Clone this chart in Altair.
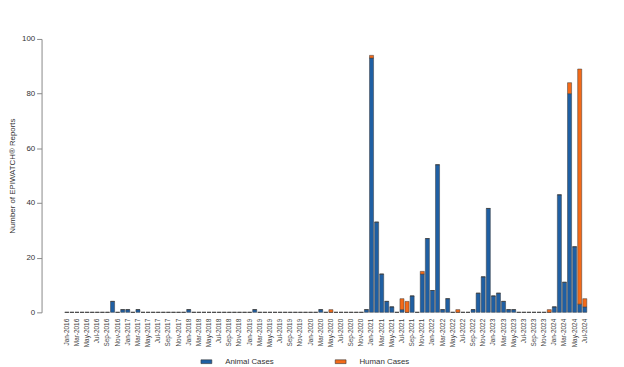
import altair as alt
import pandas as pd

MON = ["Jan", "Feb", "Mar", "Apr", "May", "Jun", "Jul", "Aug", "Sep", "Oct", "Nov", "Dec"]
months = [f"{MON[i % 12]}-{2016 + i // 12}" for i in range(103)]  # Jan-2016 .. Jul-2024

animal = [
    0, 0, 0, 0, 0, 0, 0, 0, 0, 4, 0, 1,        # 2016
    1, 0, 1, 0, 0, 0, 0, 0, 0, 0, 0, 0,        # 2017
    1, 0, 0, 0, 0, 0, 0, 0, 0, 0, 0, 0,        # 2018
    0, 1, 0, 0, 0, 0, 0, 0, 0, 0, 0, 0,        # 2019
    0, 0, 1, 0, 0, 0, 0, 0, 0, 0, 0, 1,        # 2020
    93, 33, 14, 4, 2, 0, 1, 0, 6, 0, 14, 27,   # 2021
    8, 54, 1, 5, 0, 0, 0, 0, 1, 7, 13, 38,     # 2022
    6, 7, 4, 1, 1, 0, 0, 0, 0, 0, 0, 0,        # 2023
    2, 43, 11, 80, 24, 3, 2,                   # 2024
]
human = [
    0, 0, 0, 0, 0, 0, 0, 0, 0, 0, 0, 0,        # 2016
    0, 0, 0, 0, 0, 0, 0, 0, 0, 0, 0, 0,        # 2017
    0, 0, 0, 0, 0, 0, 0, 0, 0, 0, 0, 0,        # 2018
    0, 0, 0, 0, 0, 0, 0, 0, 0, 0, 0, 0,        # 2019
    0, 0, 0, 0, 1, 0, 0, 0, 0, 0, 0, 0,        # 2020
    1, 0, 0, 0, 0, 0, 4, 4, 0, 0, 1, 0,        # 2021
    0, 0, 0, 0, 0, 1, 0, 0, 0, 0, 0, 0,        # 2022
    0, 0, 0, 0, 0, 0, 0, 0, 0, 0, 0, 1,        # 2023
    0, 0, 0, 4, 0, 86, 3,                      # 2024
]
series = ["Animal Cases", "Human Cases"]
colors = ["#1f5fa3", "#f46a18"]
y_ticks = [0, 20, 40, 60, 80, 100]

rows = []
for i, m in enumerate(months):
    rows.append({"month": m, "type": series[0], "count": animal[i], "ord": 0})
    rows.append({"month": m, "type": series[1], "count": human[i], "ord": 1})
df = pd.DataFrame(rows)

FONT = "Liberation Sans"

chart = alt.Chart(df).mark_bar(stroke="#3a3a3a", strokeWidth=0.5).encode(
    x=alt.X("month:N", sort=months,
            scale=alt.Scale(paddingInner=0.2, paddingOuter=0.5),
            axis=alt.Axis(title=None, values=months[::2], labelAngle=270,
                          domain=False, ticks=False, labelFontSize=6.5,
                          labelPadding=6, labelColor="#444", labelFont=FONT)),
    y=alt.Y("count:Q", stack="zero",
            scale=alt.Scale(domain=[0, 100], nice=False),
            axis=alt.Axis(title="Number of EPIWATCH® Reports", values=y_ticks,
                          offset=21, grid=False, domainColor="#888", tickColor="#888",
                          tickSize=5, labelPadding=2, labelFontSize=8, labelColor="#333",
                          labelFont=FONT, titleFont=FONT, titleFontSize=8,
                          titleFontWeight="normal", titleColor="#333", titlePadding=5)),
    color=alt.Color("type:N", scale=alt.Scale(domain=series, range=colors),
                    legend=alt.Legend(orient="none", legendX=140, legendY=321,
                                      direction="horizontal", title=None,
                                      symbolType="M-1,-0.35L1,-0.35L1,0.35L-1,0.35Z",
                                      symbolSize=121, symbolStrokeColor="#333",
                                      symbolStrokeWidth=0.6, labelFontSize=8,
                                      labelOffset=13, columnPadding=60,
                                      labelFont=FONT, labelColor="#333")),
    order=alt.Order("ord:Q"),
).properties(
    width=534, height=277,
    autosize=alt.AutoSizeParams(type="none"),
    padding={"left": 55, "top": 29, "right": 27, "bottom": 53},
).configure_view(stroke=None)

chart.save("out.html", embed_options={"renderer": "svg", "actions": False})
